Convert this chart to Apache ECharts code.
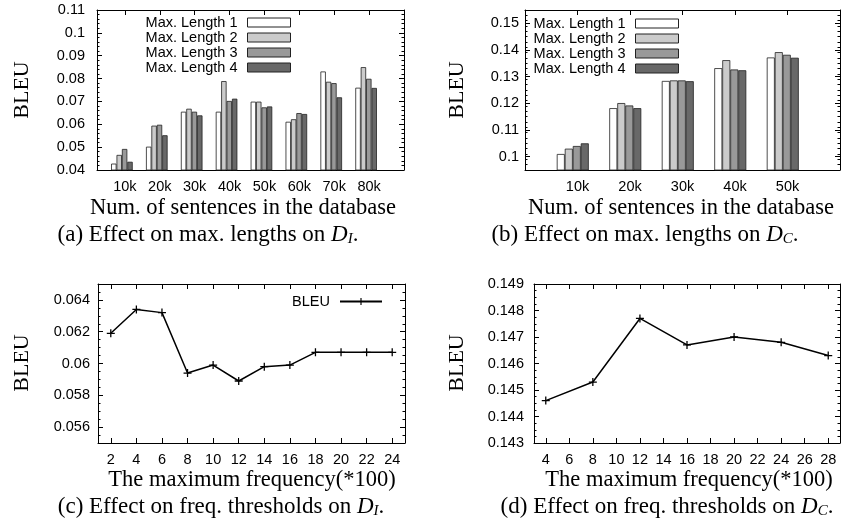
<!DOCTYPE html>
<html>
<head>
<meta charset="utf-8">
<script src="https://cdn.jsdelivr.net/npm/echarts@6/dist/echarts.min.js"></script>
<style>
  html, body { margin: 0; background: #fff; }
  #chart { width: 841px; height: 531px; }
</style>
</head>
<body>
<div id="chart"></div>
<script>
// (a) BLEU vs. number of sentences, D_I
var sizesA = ['10k', '20k', '30k', '40k', '50k', '60k', '70k', '80k'];
var len1A = [0.0428, 0.0502, 0.0655, 0.0655, 0.0699, 0.0611, 0.0831, 0.0760];
var len2A = [0.0466, 0.0594, 0.0668, 0.0789, 0.0699, 0.0622, 0.0786, 0.0850];
var len3A = [0.0492, 0.0598, 0.0655, 0.0702, 0.0674, 0.0649, 0.0780, 0.0799];
var len4A = [0.0436, 0.0552, 0.0639, 0.0712, 0.0678, 0.0645, 0.0718, 0.0759];

// (b) BLEU vs. number of sentences, D_C
var sizesB = ['10k', '20k', '30k', '40k', '50k'];
var len1B = [0.1010, 0.1182, 0.1284, 0.1332, 0.1372];
var len2B = [0.1030, 0.1201, 0.1286, 0.1362, 0.1392];
var len3B = [0.1040, 0.1192, 0.1286, 0.1327, 0.1382];
var len4B = [0.1050, 0.1182, 0.1283, 0.1324, 0.1371];

// (c) BLEU vs. max frequency, D_I
var freqC = [2, 4, 6, 8, 10, 12, 14, 16, 18, 20, 22, 24];
var bleuC = [0.0619, 0.0634, 0.0632, 0.0594, 0.0599, 0.0589, 0.0598, 0.0599, 0.0607, 0.0607, 0.0607, 0.0607];

// (d) BLEU vs. max frequency, D_C
var freqD = [4, 8, 12, 16, 20, 24, 28];
var bleuD = [0.1446, 0.1453, 0.1477, 0.1467, 0.1470, 0.1468, 0.1463];

var lenNames = ['Max. Length 1', 'Max. Length 2', 'Max. Length 3', 'Max. Length 4'];
var lenColors = ['#ffffff', '#cbcbcb', '#999999', '#686868'];

// tick labels
var yTicksA = [0.04, 0.05, 0.06, 0.07, 0.08, 0.09, 0.1, 0.11];
var yTicksB = [0.1, 0.11, 0.12, 0.13, 0.14, 0.15];
var yTicksC = [0.056, 0.058, 0.06, 0.062, 0.064];
var yTicksD = [0.143, 0.144, 0.145, 0.146, 0.147, 0.148, 0.149];
var xTicksC = [2, 4, 6, 8, 10, 12, 14, 16, 18, 20, 22, 24];
var xTicksD = [4, 6, 8, 10, 12, 14, 16, 18, 20, 22, 24, 26, 28];

var SANS = 'Liberation Sans, Arial, sans-serif';
var SERIF = 'Liberation Serif, Times New Roman, serif';
var plusPath = 'path://M-0.16,-1H0.16V1H-0.16ZM-1,-0.16H1V0.16H-1Z';

function steps(a, b, s) {
  var out = [];
  for (var v = a; v <= b + s * 1e-6; v += s) out.push(+v.toFixed(6));
  return out;
}
function idx(arr) { return arr.map(function (_, i) { return i; }); }

var plots = [
  { grid: { left: 97, top: 10, width: 307, height: 160 }, x: [-0.8, 8], shift: -0.086,
    xTicks: idx(sizesA), xFmt: function (v) { return sizesA[Math.round(v)]; },
    y: [0.04, 0.11], yTicks: yTicksA, yMinor: 0.002, yMargin: 12 },
  { grid: { left: 525, top: 10, width: 315, height: 160 }, x: [-1, 5], shift: -0.09,
    xTicks: idx(sizesB), xFmt: function (v) { return sizesB[Math.round(v)]; },
    y: [0.095, 0.155], yTicks: yTicksB, yMinor: 0.002, yMargin: 6 },
  { grid: { left: 98, top: 284, width: 307, height: 159 }, x: [1, 25], shift: 0,
    xTicks: xTicksC, xFmt: String,
    y: [0.055, 0.065], yTicks: yTicksC, yMinor: 0.0005, yMargin: 8 },
  { grid: { left: 534, top: 284, width: 306, height: 159 }, x: [3, 29], shift: 0,
    xTicks: xTicksD, xFmt: String,
    y: [0.143, 0.149], yTicks: yTicksD, yMinor: 0.00025, yMargin: 10 }
];

var grids = [], xAxes = [], yAxes = [];
plots.forEach(function (p, g) {
  grids.push(p.grid);
  var line = { show: true, onZero: false, lineStyle: { color: '#000', width: 1 } };
  var noLine = { show: false, onZero: false };
  var lab = { fontFamily: SANS, fontSize: 14.5, color: '#000' };
  // bottom, top, hidden bar axis
  xAxes.push({ type: 'value', gridIndex: g, position: 'bottom', min: p.x[0], max: p.x[1],
    axisLine: line, splitLine: { show: false },
    axisTick: { show: true, inside: true, length: 5, customValues: p.xTicks, lineStyle: { color: '#000' } },
    axisLabel: Object.assign({ show: true, customValues: p.xTicks, formatter: p.xFmt, margin: 9 }, lab) });
  xAxes.push({ type: 'value', gridIndex: g, position: 'top', min: p.x[0], max: p.x[1],
    axisLine: line, splitLine: { show: false }, axisLabel: { show: false },
    axisTick: { show: true, inside: true, length: 5, customValues: p.xTicks, lineStyle: { color: '#000' } } });
  xAxes.push({ type: 'value', gridIndex: g, show: false, min: p.x[0] - p.shift, max: p.x[1] - p.shift,
    axisLine: noLine, splitLine: { show: false } });
  var minor = steps(p.y[0], p.y[1], p.yMinor);
  ['left', 'right'].forEach(function (pos) {
    yAxes.push({ type: 'value', gridIndex: g, position: pos, min: p.y[0], max: p.y[1],
      axisLine: line, splitLine: { show: false },
      axisTick: { show: true, inside: true, length: 5, customValues: p.yTicks, lineStyle: { color: '#000' } },
      axisLabel: pos === 'left'
        ? Object.assign({ show: true, customValues: p.yTicks, margin: p.yMargin,
            formatter: function (v) { return String(+v.toFixed(6)); } }, lab)
        : { show: false } });
    yAxes.push({ type: 'value', gridIndex: g, position: pos, min: p.y[0], max: p.y[1],
      axisLine: noLine, splitLine: { show: false }, axisLabel: { show: false },
      axisTick: { show: true, inside: true, length: 2.5, customValues: minor, lineStyle: { color: '#000' } } });
  });
});

var series = [];
function barSeries(g, lists, width) {
  lists.forEach(function (vals, k) {
    series.push({
      type: 'bar', name: lenNames[k], xAxisIndex: g * 3 + 2, yAxisIndex: g * 4,
      data: vals.map(function (v, i) { return [i, v]; }),
      barWidth: width, barGap: '0%',
      itemStyle: { color: lenColors[k], borderColor: '#222', borderWidth: 0.8 }
    });
  });
}
barSeries(0, [len1A, len2A, len3A, len4A], 5.4);
barSeries(1, [len1B, len2B, len3B, len4B], 8);

function lineSeries(g, xs, ys) {
  series.push({
    type: 'line', name: 'BLEU', xAxisIndex: g * 3, yAxisIndex: g * 4,
    data: xs.map(function (x, i) { return [x, ys[i]]; }),
    symbol: plusPath, symbolSize: 8,
    lineStyle: { color: '#000', width: 1.5 },
    itemStyle: { color: '#000' }
  });
}
lineSeries(2, freqC, bleuC);
lineSeries(3, freqD, bleuD);

var legendText = { fontFamily: SANS, fontSize: 14.5, color: '#000', lineHeight: 13.6, padding: [0, 5, 0, 0] };
var legends = [
  { data: lenNames, orient: 'vertical', right: 841 - 291, top: 15, align: 'right', icon: 'rect',
    itemWidth: 43, itemHeight: 9, itemGap: 0, padding: 0, selectedMode: false,
    itemStyle: { borderWidth: 1 }, textStyle: legendText },
  { data: lenNames, orient: 'vertical', right: 841 - 679, top: 16, align: 'right', icon: 'rect',
    itemWidth: 43, itemHeight: 9, itemGap: 0, padding: 0, selectedMode: false,
    itemStyle: { borderWidth: 1 }, textStyle: legendText },
  { data: ['BLEU'], orient: 'vertical', right: 841 - 383, top: 294, align: 'right',
    itemWidth: 42, itemHeight: 9, padding: 0, selectedMode: false, textStyle: legendText }
];

function txt(x, y, s, size, rot) {
  return { type: 'text', x: x, y: y, rotation: rot || 0, silent: true,
    style: { text: s, fontFamily: SERIF, fontSize: size, fill: '#000', align: 'center', verticalAlign: 'middle' } };
}
function caption(x, y, head, sub) {
  var base = { fontFamily: SERIF, fontSize: 23, lineHeight: 24 };
  return { type: 'text', x: x, y: y, silent: true,
    style: {
      text: '{n|' + head + '}{i|D}{s|' + sub + '}{n|.}',
      fill: '#000', align: 'center', verticalAlign: 'middle',
      rich: {
        n: base,
        i: Object.assign({}, base, { fontStyle: 'italic' }),
        s: { fontFamily: SERIF, fontSize: 15, fontStyle: 'italic', lineHeight: 13, verticalAlign: 'bottom' }
      }
    } };
}

var graphics = [
  txt(22, 90, 'BLEU', 22, Math.PI / 2), txt(457, 90, 'BLEU', 22, Math.PI / 2),
  txt(22, 363, 'BLEU', 22, Math.PI / 2), txt(457, 363, 'BLEU', 22, Math.PI / 2),
  txt(243, 208, 'Num. of sentences in the database', 22.5),
  txt(681, 208, 'Num. of sentences in the database', 22.5),
  txt(252, 480, 'The maximum frequency(*100)', 22.5),
  txt(689, 480, 'The maximum frequency(*100)', 22.5),
  caption(208, 235, '(a) Effect on max. lengths on ', 'I'),
  caption(645, 235, '(b) Effect on max. lengths on ', 'C'),
  caption(221, 507, '(c) Effect on freq. thresholds on ', 'I'),
  caption(667, 507, '(d) Effect on freq. thresholds on ', 'C')
];

var chart = echarts.init(document.getElementById('chart'));
chart.setOption({
  animation: false,
  backgroundColor: '#fff',
  grid: grids,
  xAxis: xAxes,
  yAxis: yAxes,
  legend: legends,
  series: series,
  graphic: graphics
});
</script>
</body>
</html>
